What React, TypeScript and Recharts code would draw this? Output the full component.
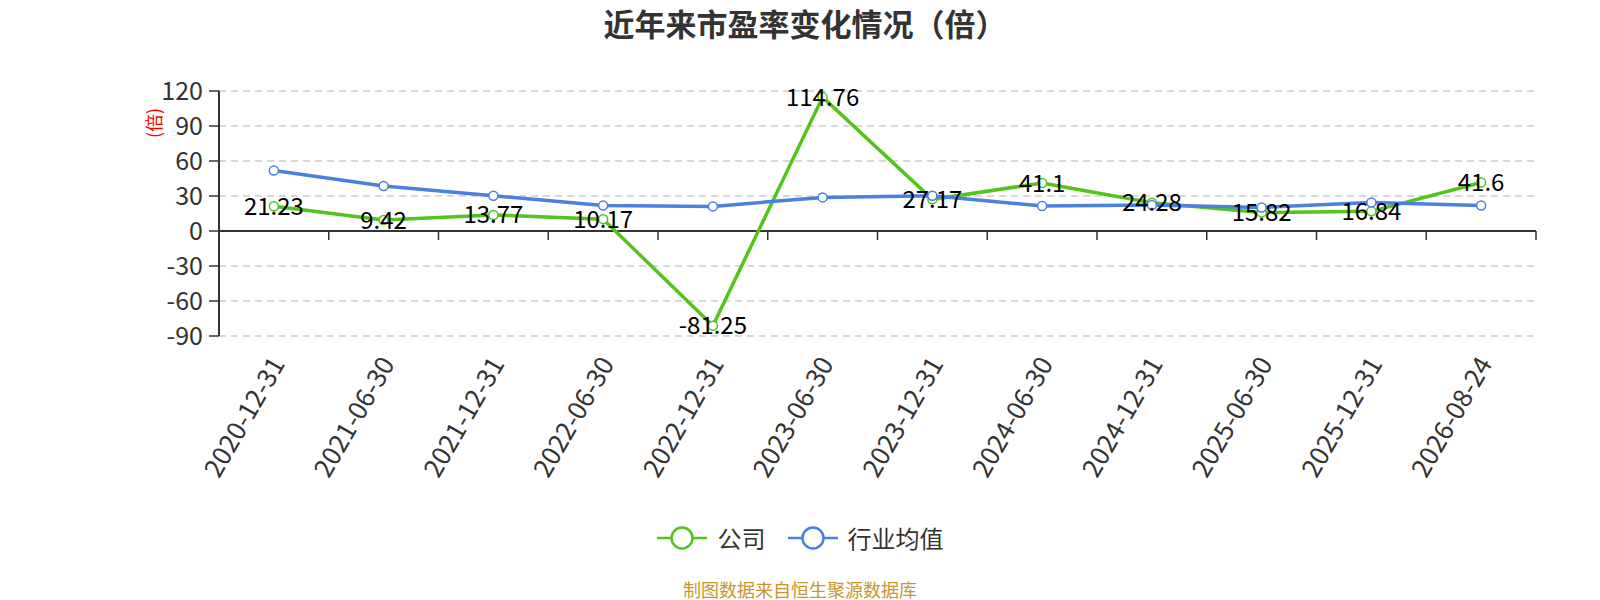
import React from "react";
import {
  LineChart,
  Line,
  XAxis,
  YAxis,
  CartesianGrid,
  ReferenceLine,
  LabelList,
} from "recharts";

const categories = [
  "2020-12-31",
  "2021-06-30",
  "2021-12-31",
  "2022-06-30",
  "2022-12-31",
  "2023-06-30",
  "2023-12-31",
  "2024-06-30",
  "2024-12-31",
  "2025-06-30",
  "2025-12-31",
  "2026-08-24",
];
const companyValues = [21.23, 9.42, 13.77, 10.17, -81.25, 114.76, 27.17, 41.1, 24.28, 15.82, 16.84, 41.6];
const industryValues = [51.9, 38.5, 30.2, 21.9, 21.1, 28.8, 30.2, 21.4, 22.2, 20.2, 24.5, 21.9];
const yTicks = [-90, -60, -30, 0, 30, 60, 90, 120];

const GREEN = "#52c41a";
const BLUE = "#4a80e0";
const FONT = '"Noto Sans CJK SC", "Noto Sans", sans-serif';

const data = categories.map((date, i) => ({
  date,
  company: companyValues[i],
  industry: industryValues[i],
}));

// x-axis line sits on zero, with ticks between categories
function ZeroAxis(props: any) {
  const { x1, x2, y1 } = props;
  const n = categories.length;
  const step = (x2 - x1) / n;
  const marks = [];
  for (let i = 1; i <= n; i++) {
    const x = x1 + i * step;
    marks.push(<line key={i} x1={x} x2={x} y1={y1} y2={y1 + 9} stroke="#333" strokeWidth={1.5} />);
  }
  return (
    <g>
      <line x1={x1} x2={x2} y1={y1} y2={y1} stroke="#333" strokeWidth={2} />
      {marks}
    </g>
  );
}

function DateTick(props: any) {
  const { x, y, payload } = props;
  return (
    <g transform={`translate(${x + 2},${y + 14})`}>
      <text
        transform="rotate(-60)"
        textAnchor="end"
        dominantBaseline="central"
        fontSize={26}
        fill="#333"
        fontFamily={FONT}
      >
        {payload.value}
      </text>
    </g>
  );
}

function ValueLabel(props: any) {
  const { x, y, value } = props;
  return (
    <text
      x={x}
      y={y - 2}
      textAnchor="middle"
      dominantBaseline="central"
      fontSize={24}
      fill="#000"
      fontFamily={FONT}
    >
      {value}
    </text>
  );
}

function LegendIcon({ color }: { color: string }) {
  return (
    <svg width={50} height={26} style={{ display: "block" }}>
      <line x1={0} x2={50} y1={13} y2={13} stroke={color} strokeWidth={2.5} />
      <circle cx={25} cy={13} r={10.5} fill="#fff" stroke={color} strokeWidth={2.5} />
    </svg>
  );
}

export default function App() {
  return (
    <div
      style={{
        position: "absolute",
        left: 0,
        top: 0,
        width: 1600,
        height: 600,
        background: "#fff",
        fontFamily: FONT,
      }}
    >
      {/* Title */}
      <div
        style={{
          position: "absolute",
          top: 7,
          left: 0,
          width: 1610,
          textAlign: "center",
          fontSize: 31,
          lineHeight: "31px",
          fontWeight: "bold",
          color: "#333",
        }}
      >
        近年来市盈率变化情况（倍）
      </div>

      <LineChart
        width={1600}
        height={600}
        data={data}
        margin={{ top: 91, right: 64, left: 0, bottom: 114 }}
      >
        <CartesianGrid vertical={false} stroke="#ccc" strokeDasharray="7 5" strokeWidth={1.5} />
        <XAxis
          dataKey="date"
          scale="band"
          axisLine={false}
          tickLine={false}
          interval={0}
          height={150}
          tick={<DateTick />}
        />
        <YAxis
          width={219}
          domain={[-90, 120]}
          ticks={yTicks}
          interval={0}
          allowDataOverflow
          axisLine={{ stroke: "#333", strokeWidth: 2 }}
          tickLine={{ stroke: "#333", strokeWidth: 1.5 }}
          tickSize={10}
          tickMargin={6}
          tick={{ fontSize: 25, fill: "#333", fontFamily: FONT }}
          label={{
            value: "(倍)",
            angle: -90,
            position: "insideTopLeft",
            offset: 0,
            dx: 148,
            dy: 47,
            fill: "#f00",
            fontSize: 18,
            fontFamily: FONT,
          }}
        />
        <ReferenceLine y={0} shape={<ZeroAxis />} />
        <Line
          dataKey="company"
          name="公司"
          stroke={GREEN}
          strokeWidth={3.5}
          dot={{ r: 4.5, fill: "#fff", stroke: GREEN, strokeWidth: 1.5 }}
          isAnimationActive={false}
        />
        <Line
          dataKey="industry"
          name="行业均值"
          stroke={BLUE}
          strokeWidth={3.5}
          dot={{ r: 4.5, fill: "#fff", stroke: BLUE, strokeWidth: 1.5 }}
          isAnimationActive={false}
        />
        {/* company value labels drawn above both lines */}
        <Line
          dataKey="company"
          stroke="none"
          dot={false}
          activeDot={false}
          legendType="none"
          isAnimationActive={false}
        >
          <LabelList dataKey="company" content={<ValueLabel />} />
        </Line>
      </LineChart>

      {/* Legend */}
      <div
        style={{
          position: "absolute",
          top: 522,
          left: 0,
          width: 1600,
          height: 32,
          display: "flex",
          justifyContent: "center",
          alignItems: "center",
          fontSize: 24,
          lineHeight: "32px",
          color: "#333",
        }}
      >
        <LegendIcon color={GREEN} />
        <span style={{ marginLeft: 11, marginRight: 22 }}>公司</span>
        <LegendIcon color={BLUE} />
        <span style={{ marginLeft: 10 }}>行业均值</span>
      </div>

      {/* Source note */}
      <div
        style={{
          position: "absolute",
          top: 578,
          left: 0,
          width: 1600,
          textAlign: "center",
          fontSize: 18,
          lineHeight: "22px",
          color: "#c9952f",
        }}
      >
        制图数据来自恒生聚源数据库
      </div>
    </div>
  );
}
